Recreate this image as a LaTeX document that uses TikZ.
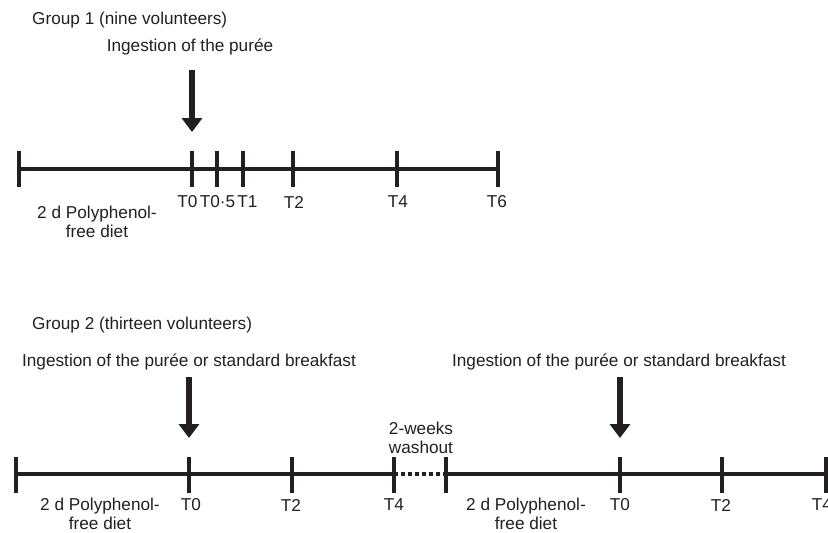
\documentclass[tikz,border=0pt]{standalone}
\usepackage{fontspec}
\setmainfont{Liberation Sans}
\usetikzlibrary{arrows.meta}
\definecolor{ink}{HTML}{231F20}
\begin{document}
\begin{tikzpicture}[x=1pt,y=-1pt,
  axis/.style={draw=ink,line width=4.5pt},
  tickmark/.style={draw=ink,line width=4.5pt},
  bigarrow/.style={draw=ink,line width=5.5pt,-{Triangle[width=20pt,length=14pt]}},
  lbl/.style={text=ink,font=\fontsize{17.2}{19}\selectfont,inner sep=0pt},
  twoline/.style={lbl,align=center,font=\fontsize{17.2}{19}\selectfont}]
\useasboundingbox (0,0) rectangle (828,533);
% ---------- Group 1 ----------
\node[lbl,anchor=west] (g1) at (32,20) {Group 1 (nine volunteers)};
\node[lbl] (ing1) at (190,47) {Ingestion of the purée};
\foreach \n/\x in {a/19,b/192,c/217,d/243,e/293,f/397,g/498}{
  \coordinate (p\n) at (\x,169);
  \coordinate (p\n t) at (\x,151);
  \coordinate (p\n b) at (\x,187);
}
\draw[axis] (pa) -- (pg);
\foreach \n in {a,b,c,d,e,f,g}{\draw[tickmark] (p\n t) -- (p\n b);}
\coordinate (ar1s) at (192,70);
\coordinate (ar1e) at (192,132);
\draw[bigarrow] (ar1s) -- (ar1e);
\node[lbl] (l1b) at (187.5,202) {T0};
\node[lbl] (l1c) at (217.5,202) {T0·5};
\node[lbl] (l1d) at (247.5,202) {T1};
\node[lbl] (l1e) at (294,202) {T2};
\node[lbl] (l1f) at (398,202) {T4};
\node[lbl] (l1g) at (497,202) {T6};
\node[twoline] (diet1) at (97,222) {2 d Polyphenol-\\free diet};
% ---------- Group 2 ----------
\node[lbl,anchor=west] (g2) at (32,325) {Group 2 (thirteen volunteers)};
\node[lbl] (ing2) at (189,362) {Ingestion of the purée or standard breakfast};
\node[lbl] (ing3) at (619,362) {Ingestion of the purée or standard breakfast};
\foreach \n/\x in {a/16,b/189,c/292,d/394,e/446,f/620,g/722,h/826}{
  \coordinate (q\n) at (\x,474);
  \coordinate (q\n t) at (\x,457);
  \coordinate (q\n b) at (\x,493);
}
\draw[axis] (qa) -- (qd);
\draw[draw=ink,line width=3.5pt,dash pattern=on 4pt off 3pt] (qd) -- (qe);
\draw[axis] (qe) -- (qh);
\foreach \n in {a,b,c,d,e,f,g,h}{\draw[tickmark] (q\n t) -- (q\n b);}
\coordinate (ar2s) at (189,377);
\coordinate (ar2e) at (189,438);
\draw[bigarrow] (ar2s) -- (ar2e);
\coordinate (ar3s) at (620,377);
\coordinate (ar3e) at (620,438);
\draw[bigarrow] (ar3s) -- (ar3e);
\node[twoline] (wash) at (421,437.5) {2-weeks\\washout};
\node[lbl] (l2b) at (191,505) {T0};
\node[lbl] (l2c) at (291,505) {T2};
\node[lbl] (l2d) at (394,505) {T4};
\node[lbl] (l2f) at (620,505) {T0};
\node[lbl] (l2g) at (721,505) {T2};
\node[lbl] (l2h) at (822,505) {T4};
\node[twoline] (diet2) at (100,513.5) {2 d Polyphenol-\\free diet};
\node[twoline] (diet3) at (526,513.5) {2 d Polyphenol-\\free diet};
\end{tikzpicture}
\end{document}
